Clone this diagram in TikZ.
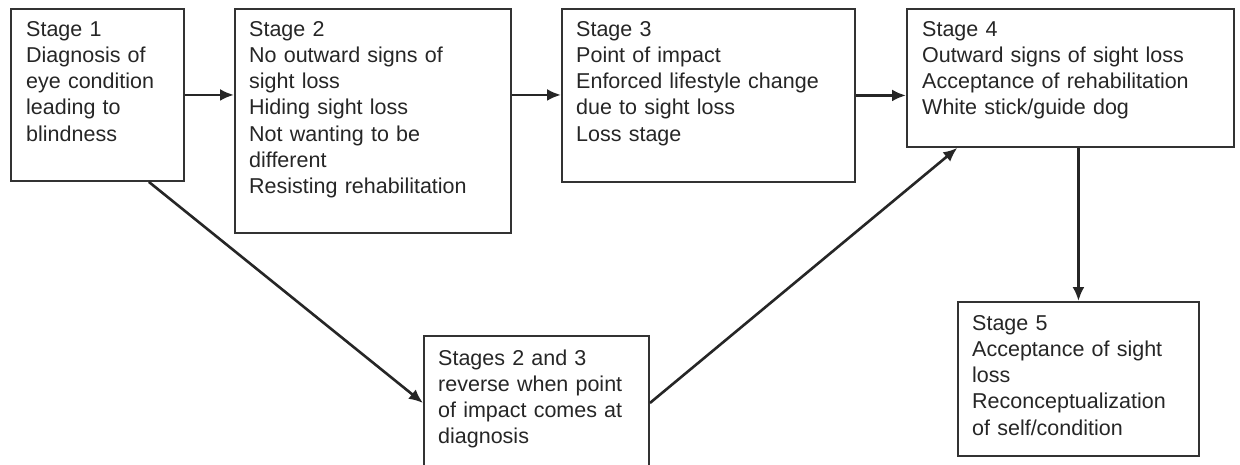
\documentclass[tikz,border=0pt]{standalone}
\usepackage{fontspec}
\setmainfont{Liberation Sans}
\usetikzlibrary{arrows.meta,calc}
\definecolor{ink}{HTML}{262626}
\definecolor{frame}{HTML}{333333}
\tikzset{
  stagebox/.style={draw=frame, line width=1.9pt, rectangle, anchor=north west, inner sep=0pt},
  stagetext/.style={anchor=base west, inner sep=0pt, align=left, text width=320pt, text=ink,
    font=\fontsize{21.5}{26.3}\selectfont},
  link/.style={draw=ink, line width=2.6pt, -{Latex[length=14pt,width=12pt]}}
}
\begin{document}
\begin{tikzpicture}[x=1pt,y=-1pt]
\useasboundingbox (0,0) rectangle (1240,464);
\clip (0,0) rectangle (1240,464);
\fill[white] (0,0) rectangle (1240,464);
% boxes
\node[stagebox, minimum width=173pt, minimum height=172pt] (s1) at (10,8) {};
\node[stagebox, minimum width=276pt, minimum height=224pt] (s2) at (234,8) {};
\node[stagebox, minimum width=293pt, minimum height=173pt] (s3) at (561,8) {};
\node[stagebox, minimum width=327pt, minimum height=138pt] (s4) at (906,8) {};
\node[stagebox, minimum width=241pt, minimum height=154pt] (s5) at (957,301) {};
\node[stagebox, minimum width=225pt, minimum height=150pt] (mid) at (423,335) {};
% texts
\node[stagetext] (t1) at ($(s1.north west)+(16,28)$) {Stage 1\\Diagnosis of\\eye condition\\leading to\\blindness};
\node[stagetext] (t2) at ($(s2.north west)+(15,28)$) {Stage 2\\No outward signs of\\sight loss\\Hiding sight loss\\Not wanting to be\\different\\Resisting rehabilitation};
\node[stagetext] (t3) at ($(s3.north west)+(15,28)$) {Stage 3\\Point of impact\\Enforced lifestyle change\\due to sight loss\\Loss stage};
\node[stagetext] (t4) at ($(s4.north west)+(16,28)$) {Stage 4\\Outward signs of sight loss\\Acceptance of rehabilitation\\White stick/guide dog};
\node[stagetext] (t5) at ($(s5.north west)+(15,29)$) {Stage 5\\Acceptance of sight\\loss\\Reconceptualization\\of self/condition};
\node[stagetext] (tm) at ($(mid.north west)+(15,30)$) {Stages 2 and 3\\reverse when point\\of impact comes at\\diagnosis};
% connector anchors
\coordinate (s1out) at ($(s1.south west)!0.794!(s1.south east)$);
\coordinate (midin) at ($(mid.north west)+(0,68)$);
\coordinate (midout) at ($(mid.north east)+(0,68)$);
\coordinate (s4in) at ($(s4.south west)!0.156!(s4.south east)$);
% connectors
\draw[link] (s1.east) -- (s1.east -| s2.west);
\draw[link] (s2.east |- s1.east) -- (s3.west |- s1.east);
\draw[link] (s3.east) -- (s3.east -| s4.west);
\draw[link] (s5.north |- s4.south) -- (s5.north);
\draw[link] (s1out) -- (midin);
\draw[link] (midout) -- (s4in);
\end{tikzpicture}
\end{document}
